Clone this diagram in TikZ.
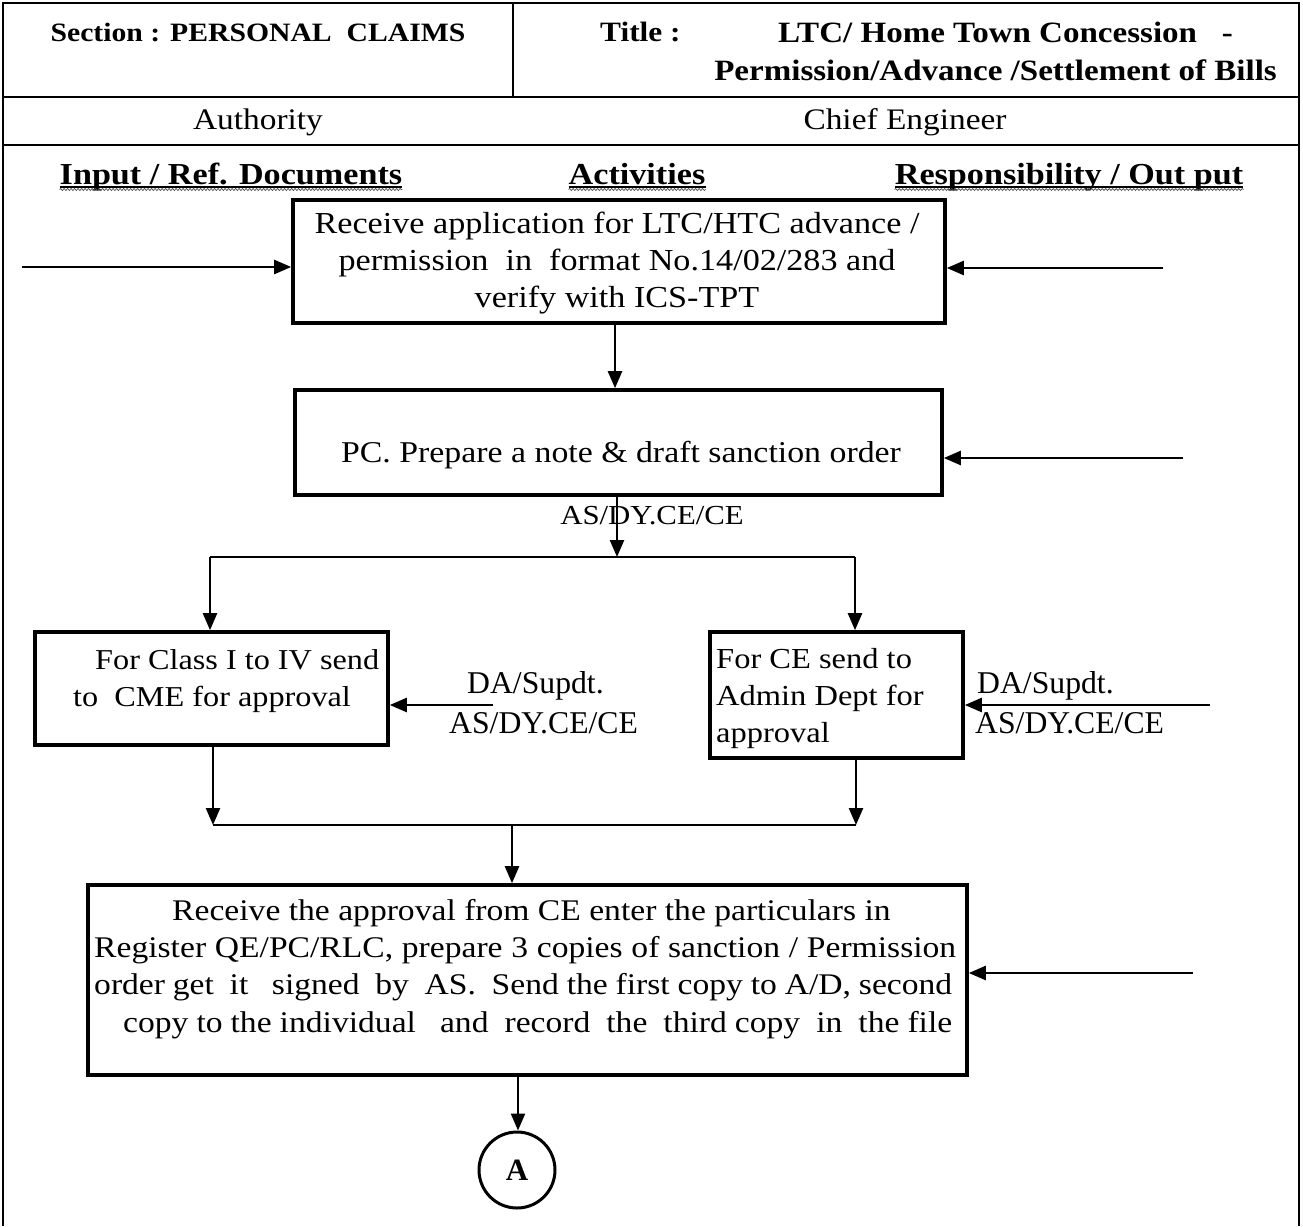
\documentclass[tikz,border=0pt]{standalone}
\usepackage{fontspec}
\setmainfont[FakeStretch=1.12]{Liberation Serif}
\newfontfamily\plainserif{Liberation Serif}
\usetikzlibrary{arrows.meta,decorations.pathmorphing}

\begin{document}
\begin{tikzpicture}[x=1pt,y=-1pt,
  box/.style={draw,line width=3.6pt,inner sep=0pt},
  arr/.style={line width=2.4pt,-{Triangle[length=17pt,width=14pt]}},
  link/.style={line width=2.4pt},
  frame/.style={line width=1.8pt},
  body/.style={font=\fontsize{30.5}{37}\selectfont,inner sep=0pt},
  head/.style={font=\bfseries\fontsize{26.5}{37}\selectfont,inner sep=0pt},
  colhead/.style={font=\bfseries\fontsize{30.5}{37}\selectfont,inner sep=0pt,anchor=base},
  who/.style={font=\plainserif\fontsize{31.7}{37}\selectfont,inner sep=0pt,anchor=west},
  wavy/.style={line width=0.7pt,black!70,decorate,decoration={snake,amplitude=1pt,segment length=3.5pt}}]
\useasboundingbox (0,0) rectangle (1303,1226);

% page frame and header rows
\draw[frame] (3,1226) -- (3,3) -- (1299,3) -- (1299,1226);
\draw[frame] (3,97) -- (1299,97);
\draw[frame] (3,145) -- (1299,145);
\draw[frame] (513,3) -- (513,97);

\node[head] (sec) at (258,32) {Section : PERSONAL~ CLAIMS};
\node[head,font=\bfseries\fontsize{28}{37}\selectfont,anchor=west] (ttl) at (600,32) {Title :};
\node[head,font=\bfseries\fontsize{29.5}{37}\selectfont,anchor=west] (ttl1) at (778,32) {LTC/ Home Town Concession~~ -};
\node[head,font=\bfseries\fontsize{29.5}{37}\selectfont,anchor=east] (ttl2) at (1277,70) {Permission/Advance /Settlement of Bills};

\node[body,font=\fontsize{29.8}{37}\selectfont] (auth) at (258,122) {Authority};
\node[body,font=\fontsize{29.8}{37}\selectfont] (ce) at (905,122) {Chief Engineer};

% column headings
\node[colhead] (c1) at (231,184) {Input / Ref. Documents};
\node[colhead] (c2) at (637,184) {Activities};
\node[colhead] (c3) at (1069,184) {Responsibility / Out put};
\foreach \c in {c1,c2,c3}{
  \draw[line width=1.3pt] ([yshift=-3pt]\c.base west) -- ([yshift=-3pt]\c.base east);
  \draw[wavy] ([yshift=-5.5pt]\c.base west) -- ([yshift=-5.5pt]\c.base east);
}

% process boxes
\node[box,minimum width=652pt,minimum height=123pt] (b1) at (619,261.5) {};
\node[body,align=center] (t1) at (617,263) {Receive application for LTC/HTC advance /\\permission~ in~ format No.14/02/283 and\\verify with ICS-TPT};

\node[box,minimum width=647pt,minimum height=105pt] (b2) at (618.5,442.5) {};
\node[body,font=\fontsize{30.2}{37}\selectfont] (t2) at (621,455) {PC. Prepare a note \& draft sanction order};
\node[body,font=\fontsize{27.5}{37}\selectfont] (r2) at (652,516) {AS/DY.CE/CE};

\node[box,minimum width=353pt,minimum height=113pt] (b3) at (211.5,688.5) {};
\node[body,font=\fontsize{28.8}{37}\selectfont,anchor=north west] (t3a) at (95,649) {For Class I to IV send};
\node[body,font=\fontsize{28.8}{37}\selectfont,anchor=north west] (t3b) at (73,686) {to~ CME for approval};

\node[box,minimum width=253pt,minimum height=126pt] (b4) at (836.5,695) {};
\node[body,font=\fontsize{29}{37}\selectfont,align=left,anchor=north west] (t4) at (716,648) {For CE send to\\Admin Dept for\\approval};

\node[box,minimum width=879pt,minimum height=190pt] (b5) at (527.5,980) {};
\begin{scope}[every node/.style={body,font=\fontsize{30}{37}\selectfont,anchor=west}]
\node (t5a) at (172,913) {Receive the approval from CE enter the particulars in};
\node (t5b) at (94,950) {\makebox[862pt][s]{Register QE/PC/RLC, prepare 3 copies of sanction / Permission}};
\node (t5c) at (94,987) {\makebox[858pt][s]{order get~ it~~ signed~ by~ AS.~ Send the first copy to A/D, second}};
\node (t5d) at (123,1025) {\makebox[829pt][s]{copy to the individual~~ and~ record~ the~ third copy~ in~ the file}};
\end{scope}

\node[draw,circle,line width=3pt,minimum size=76pt,inner sep=0pt,font=\bfseries\plainserif\fontsize{31}{34}\selectfont] (A) at (517,1170) {A};

% responsibility labels
\node[who] (w3a) at (467,686) {DA/Supdt.};
\node[who] (w3b) at (449,723) {AS/DY.CE/CE};
\node[who] (w4a) at (977,686) {DA/Supdt.};
\node[who] (w4b) at (975,723) {AS/DY.CE/CE};

% free ends of the side inputs
\coordinate (in1) at (22,267);
\coordinate (out1) at (1163,268);
\coordinate (out2) at (1183,458);
\coordinate (out3) at (493,705);
\coordinate (out4) at (1210,705);
\coordinate (out5) at (1193,973);

\draw[arr] (in1) -- (in1 -| b1.west);
\draw[arr] (out1) -- (out1 -| b1.east);
\draw[arr] (out2) -- (out2 -| b2.east);
\draw[arr] (out3) -- (out3 -| b3.east);
\draw[arr] (out4) -- (out4 -| b4.east);
\draw[arr] (out5) -- (out5 -| b5.east);

% main flow
\coordinate (s1) at (615,0);
\draw[arr] (s1 |- b1.south) -- (s1 |- b2.north);

\coordinate (split) at (617,557);
\draw[arr] (split |- b2.south) -- (split);
\coordinate (sl) at (210,557);
\coordinate (sr) at (855,557);
\draw[link] (sl) -- (sr);
\draw[arr] (sl) -- (sl |- b3.north);
\draw[arr] (sr) -- (sr |- b4.north);

\coordinate (jl) at (213,825);
\coordinate (jr) at (856,825);
\coordinate (jm) at (512,825);
\draw[arr] (jl |- b3.south) -- (jl);
\draw[arr] (jr |- b4.south) -- (jr);
\draw[link] (jl) -- (jr);
\draw[arr] (jm) -- (jm |- b5.north);

\coordinate (s5) at (518,0);
\draw[arr] (s5 |- b5.south) -- (s5 |- A.north);
\end{tikzpicture}
\end{document}
